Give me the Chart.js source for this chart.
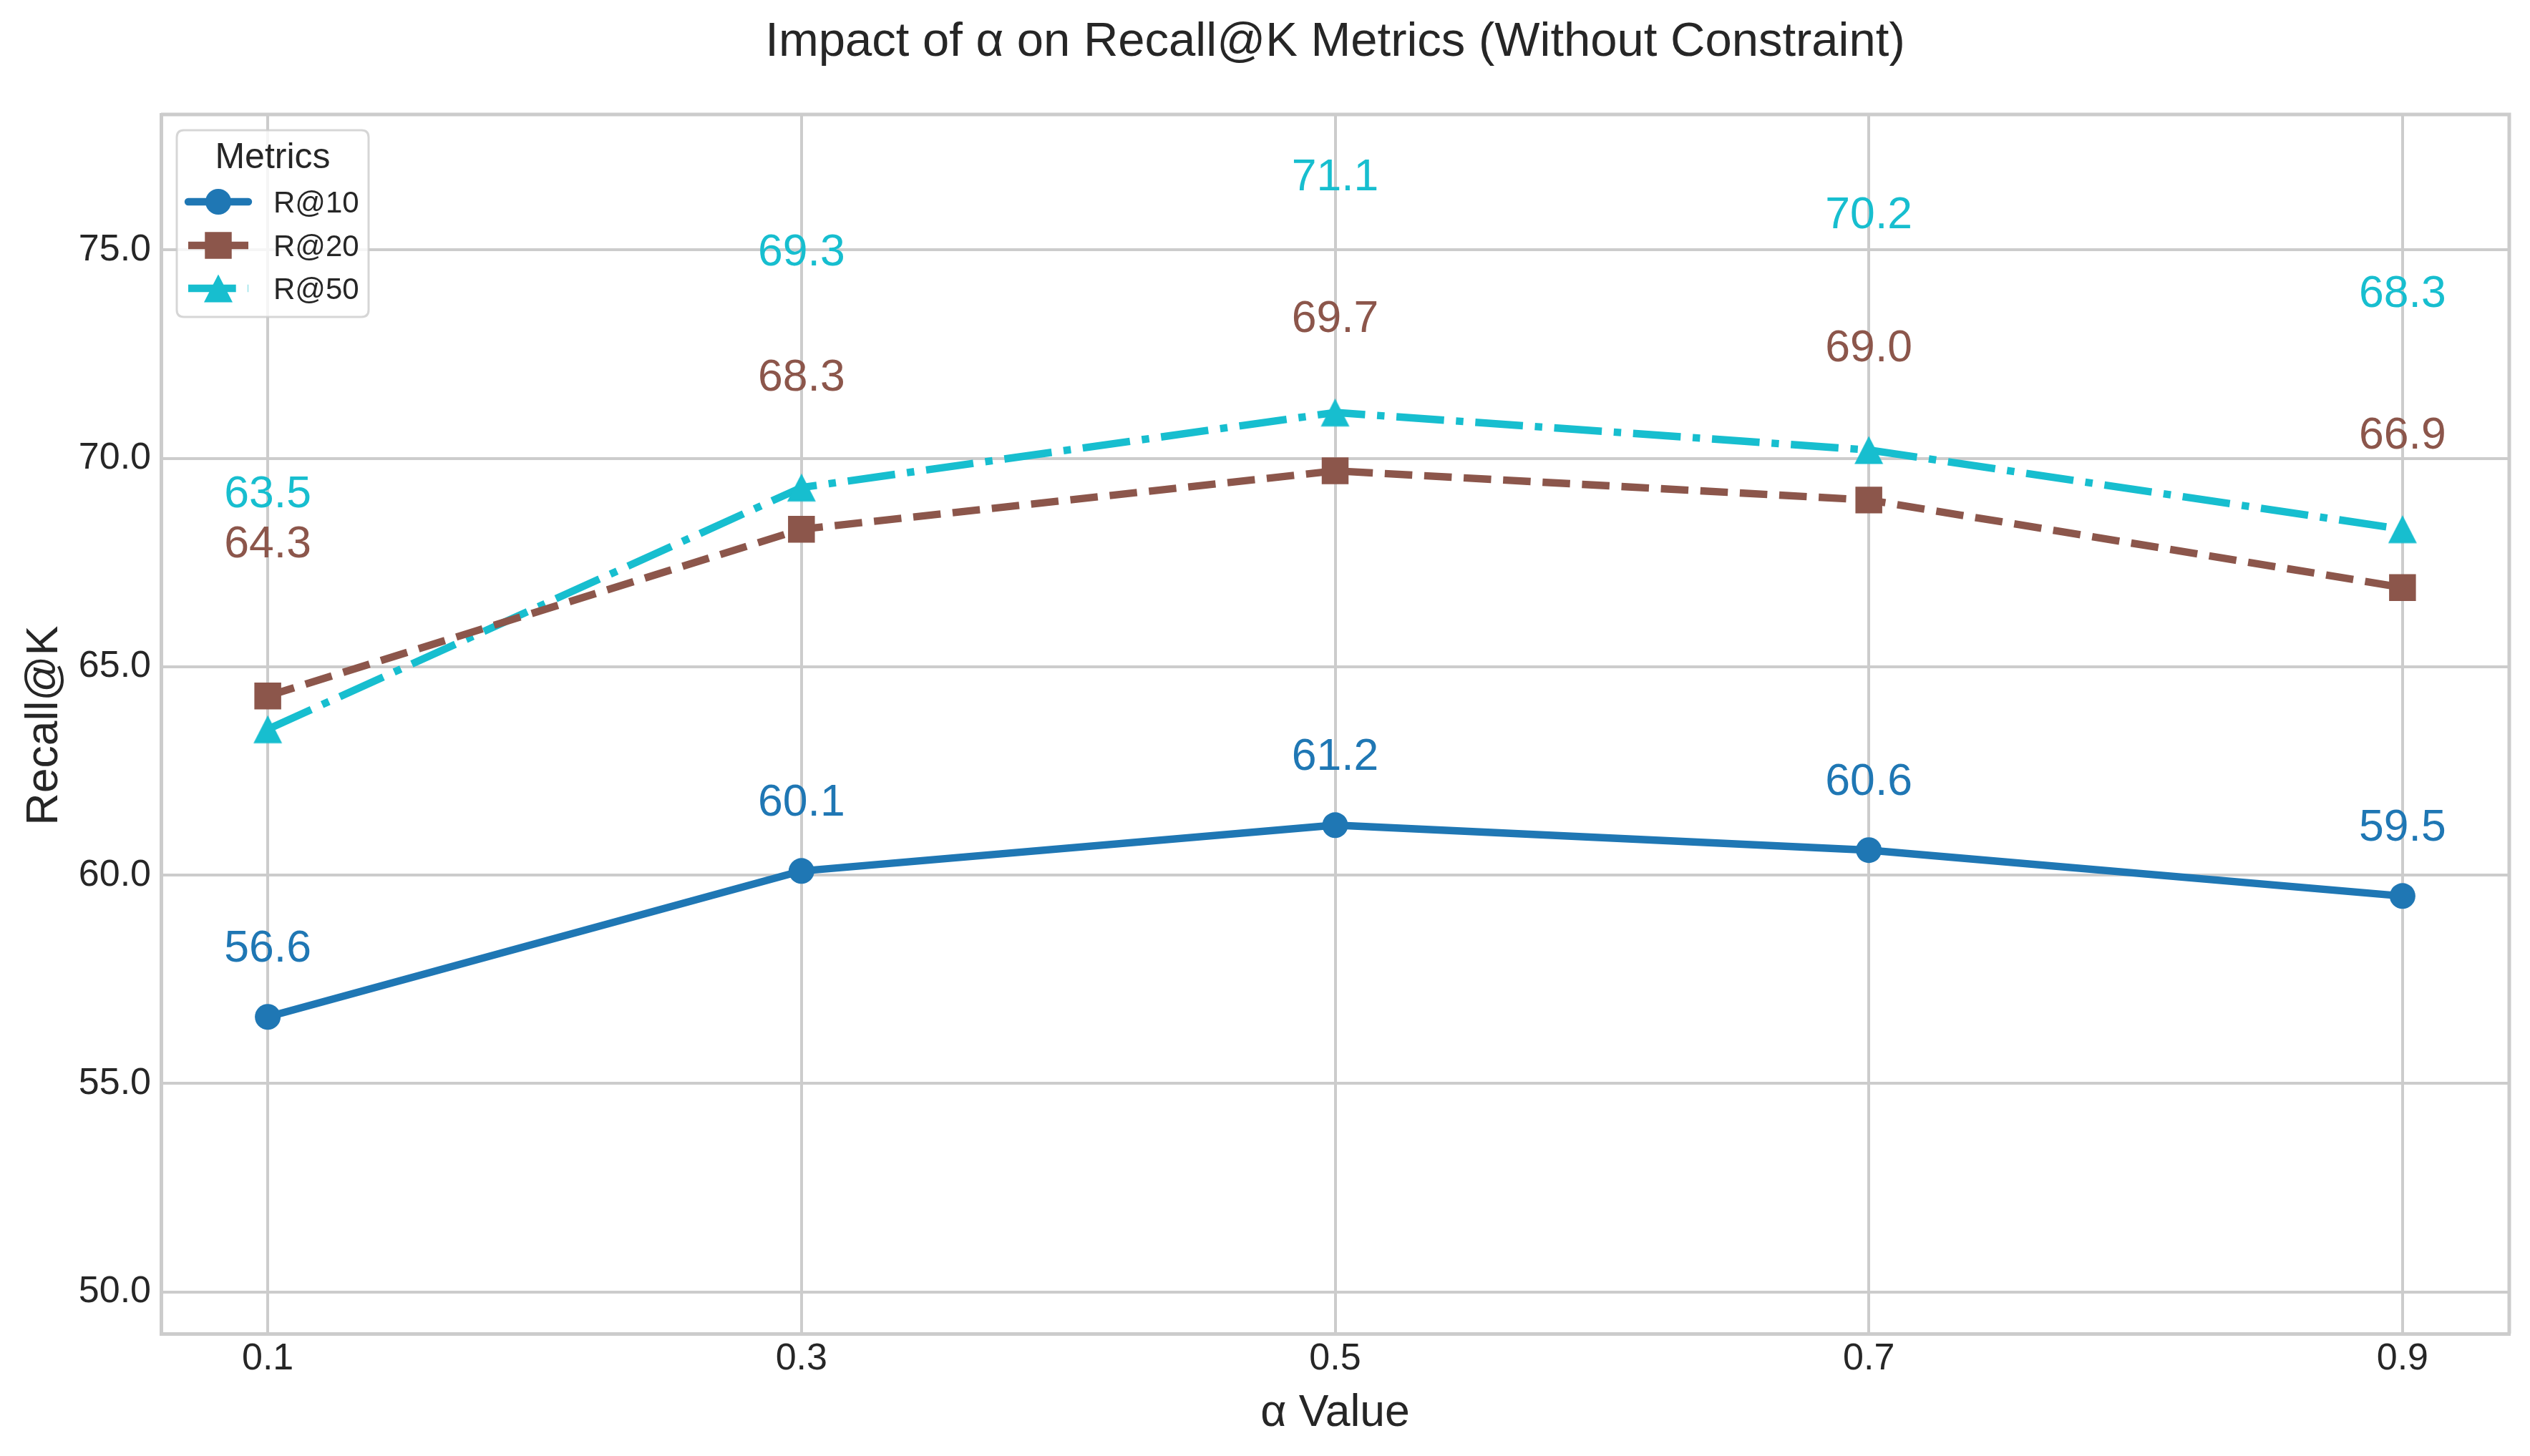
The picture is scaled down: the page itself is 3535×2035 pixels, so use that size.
<!DOCTYPE html>
<html>
<head>
<meta charset="utf-8">
<script src="https://cdn.jsdelivr.net/npm/chart.js@4.4.1/dist/chart.umd.min.js"></script>
<style>
  html, body { margin: 0; padding: 0; background: #ffffff; }
  canvas { display: block; }
</style>
</head>
<body>
<canvas id="chart" width="3535" height="2035" style="width:3535px;height:2035px"></canvas>
<script>
// ---------------- data ----------------
const alphaValues = [0.1, 0.3, 0.5, 0.7, 0.9];
const recallAt10 = [56.6, 60.1, 61.2, 60.6, 59.5];
const recallAt20 = [64.3, 68.3, 69.7, 69.0, 66.9];
const recallAt50 = [63.5, 69.3, 71.1, 70.2, 68.3];
const seriesNames = ['R@10', 'R@20', 'R@50'];
const xTickValues = [0.1, 0.3, 0.5, 0.7, 0.9];
const yTickValues = [50, 55, 60, 65, 70, 75];
const chartTitle = 'Impact of α on Recall@K Metrics (Without Constraint)';
const xAxisTitle = 'α Value';
const yAxisTitle = 'Recall@K';
const legendTitle = 'Metrics';

// ---------------- styles ----------------
const FONT = '"Liberation Sans", Arial, Helvetica, sans-serif';
const TEXT_COLOR = '#262626';
const GRID_COLOR = '#cccccc';
const COLORS = ['#1f77b4', '#8c564b', '#17becf'];
const LINE_W = 10.4;

function makeTriangle(color) {
  const c = document.createElement('canvas');
  c.width = 42; c.height = 42;
  const g = c.getContext('2d');
  g.fillStyle = color;
  g.beginPath();
  g.moveTo(21, 1.5);
  g.lineTo(41, 40.5);
  g.lineTo(1, 40.5);
  g.closePath();
  g.fill();
  return c;
}
const triangleImg = makeTriangle(COLORS[2]);

function toPoints(values) {
  return alphaValues.map((a, i) => ({ x: a, y: values[i] }));
}

const datasets = [
  {
    label: seriesNames[0],
    data: toPoints(recallAt10),
    borderColor: COLORS[0],
    backgroundColor: COLORS[0],
    borderWidth: LINE_W,
    borderDash: [],
    borderCapStyle: 'round',
    borderJoinStyle: 'round',
    pointStyle: 'circle',
    pointRadius: 18,
    pointBorderWidth: 0,
    pointBackgroundColor: COLORS[0],
    labelOffset: 1
  },
  {
    label: seriesNames[1],
    data: toPoints(recallAt20),
    borderColor: COLORS[1],
    backgroundColor: COLORS[1],
    borderWidth: LINE_W,
    borderDash: [38.5, 16.7],
    borderCapStyle: 'butt',
    borderJoinStyle: 'round',
    pointStyle: 'rect',
    pointRadius: 26.5,
    pointBorderWidth: 0,
    pointBackgroundColor: COLORS[1],
    labelOffset: 3
  },
  {
    label: seriesNames[2],
    data: toPoints(recallAt50),
    borderColor: COLORS[2],
    backgroundColor: COLORS[2],
    borderWidth: LINE_W,
    borderDash: [66.7, 16.7, 10.4, 16.7],
    borderCapStyle: 'butt',
    borderJoinStyle: 'round',
    pointStyle: triangleImg,
    pointRadius: 21,
    pointBorderWidth: 0,
    pointBackgroundColor: COLORS[2],
    labelOffset: 5
  }
];

function drawLegendMarker(ctx, ds, x, y) {
  ctx.save();
  ctx.fillStyle = ds.borderColor;
  if (ds.pointStyle === 'circle') {
    ctx.beginPath();
    ctx.arc(x, y, ds.pointRadius, 0, Math.PI * 2);
    ctx.fill();
  } else if (ds.pointStyle === 'rect') {
    const s = ds.pointRadius * Math.SQRT1_2;
    ctx.fillRect(x - s, y - s, 2 * s, 2 * s);
  } else if (ds.pointStyle && ds.pointStyle.getContext) {
    const im = ds.pointStyle;
    ctx.drawImage(im, x - im.width / 2, y - im.height / 2);
  }
  ctx.restore();
}

const decorPlugin = {
  id: 'decor',
  beforeDatasetsDraw(chart) {
    const ctx = chart.ctx, a = chart.chartArea;
    ctx.save();
    ctx.strokeStyle = GRID_COLOR;
    ctx.lineWidth = 5;
    ctx.beginPath();
    ctx.moveTo(a.left, a.top);
    ctx.lineTo(a.right, a.top);
    ctx.lineTo(a.right, a.bottom);
    ctx.stroke();
    ctx.restore();
  },
  afterDatasetsDraw(chart) {
    const ctx = chart.ctx;
    const xs = chart.scales.x, ys = chart.scales.y;
    ctx.save();
    ctx.font = `62.5px ${FONT}`;
    ctx.textAlign = 'center';
    ctx.textBaseline = 'alphabetic';
    chart.data.datasets.forEach((ds) => {
      ctx.fillStyle = ds.borderColor;
      ds.data.forEach((p) => {
        const px = xs.getPixelForValue(p.x);
        const py = ys.getPixelForValue(p.y + ds.labelOffset) - 19;
        ctx.fillText(p.y.toFixed(1), px, py);
      });
    });
    ctx.restore();
  },
  afterDraw(chart) {
    const ctx = chart.ctx, a = chart.chartArea;
    const cx = (a.left + a.right) / 2;
    ctx.save();
    ctx.fillStyle = TEXT_COLOR;
    ctx.textAlign = 'center';
    ctx.textBaseline = 'alphabetic';
    // title
    ctx.font = `67px ${FONT}`;
    ctx.fillText(chartTitle, cx, 78);
    // x axis title
    ctx.font = `62.5px ${FONT}`;
    ctx.fillText(xAxisTitle, cx, 1993);
    // y axis title
    ctx.save();
    ctx.translate(80, (a.top + a.bottom) / 2 + 2);
    ctx.rotate(-Math.PI / 2);
    ctx.fillText(yAxisTitle, 0, 0);
    ctx.restore();

    // legend
    const lx = 247, ly = 182, lw = 268, lh = 261, r = 10;
    ctx.beginPath();
    ctx.moveTo(lx + r, ly);
    ctx.lineTo(lx + lw - r, ly);
    ctx.quadraticCurveTo(lx + lw, ly, lx + lw, ly + r);
    ctx.lineTo(lx + lw, ly + lh - r);
    ctx.quadraticCurveTo(lx + lw, ly + lh, lx + lw - r, ly + lh);
    ctx.lineTo(lx + r, ly + lh);
    ctx.quadraticCurveTo(lx, ly + lh, lx, ly + lh - r);
    ctx.lineTo(lx, ly + r);
    ctx.quadraticCurveTo(lx, ly, lx + r, ly);
    ctx.closePath();
    ctx.fillStyle = 'rgba(255,255,255,0.8)';
    ctx.fill();
    ctx.strokeStyle = 'rgba(204,204,204,0.8)';
    ctx.lineWidth = 3;
    ctx.stroke();

    ctx.fillStyle = TEXT_COLOR;
    ctx.font = `50px ${FONT}`;
    ctx.textAlign = 'center';
    ctx.fillText(legendTitle, lx + lw / 2, 235);

    const rowY = [282, 343, 403];
    ctx.font = `42px ${FONT}`;
    ctx.textAlign = 'left';
    chart.data.datasets.forEach((ds, i) => {
      const y = rowY[i];
      ctx.save();
      ctx.strokeStyle = ds.borderColor;
      ctx.lineWidth = ds.borderWidth;
      ctx.lineCap = ds.borderCapStyle;
      ctx.setLineDash(ds.borderDash || []);
      ctx.beginPath();
      ctx.moveTo(263, y);
      ctx.lineTo(347, y);
      ctx.stroke();
      ctx.restore();
      drawLegendMarker(ctx, ds, 305, y);
      ctx.fillStyle = TEXT_COLOR;
      ctx.fillText(ds.label, 382, y + 15);
    });
    ctx.restore();
  }
};

new Chart(document.getElementById('chart'), {
  type: 'line',
  data: { datasets },
  plugins: [decorPlugin],
  options: {
    responsive: false,
    devicePixelRatio: 1,
    animation: false,
    events: [],
    layout: { padding: { top: 160, right: 29, bottom: 0, left: 0 } },
    plugins: {
      legend: { display: false },
      title: { display: false },
      tooltip: { enabled: false }
    },
    scales: {
      x: {
        type: 'linear',
        min: 0.06,
        max: 0.94,
        afterBuildTicks: (scale) => { scale.ticks = xTickValues.map(v => ({ value: v })); },
        afterFit: (scale) => { scale.height = 171; },
        grid: { color: GRID_COLOR, lineWidth: 4, drawTicks: false },
        border: { display: true, color: GRID_COLOR, width: 5 },
        ticks: {
          autoSkip: false,
          maxRotation: 0,
          padding: 4,
          color: TEXT_COLOR,
          font: { family: FONT, size: 52 },
          callback: (v) => Number(v).toFixed(1)
        }
      },
      y: {
        type: 'linear',
        min: 49,
        max: 78.25,
        afterBuildTicks: (scale) => { scale.ticks = yTickValues.map(v => ({ value: v })); },
        afterFit: (scale) => { scale.width = 225; },
        grid: { color: GRID_COLOR, lineWidth: 4, drawTicks: false },
        border: { display: true, color: GRID_COLOR, width: 5 },
        ticks: {
          autoSkip: false,
          padding: 14,
          color: TEXT_COLOR,
          font: { family: FONT, size: 52 },
          callback: (v) => Number(v).toFixed(1)
        }
      }
    }
  }
});
</script>
</body>
</html>
